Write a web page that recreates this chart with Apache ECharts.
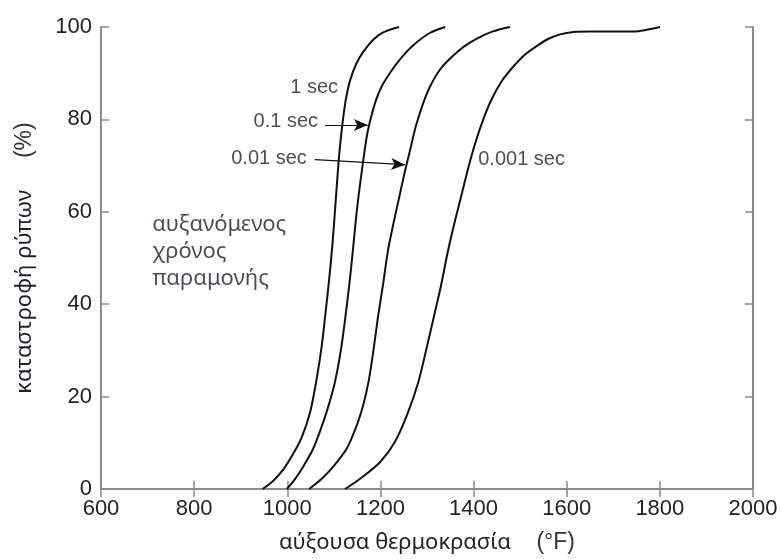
<!DOCTYPE html>
<html lang="el">
<head>
    <meta charset="utf-8" />
    <title>Καταστροφή ρύπων</title>
    <script src="https://cdn.jsdelivr.net/npm/echarts@6/dist/echarts.min.js"></script>
    <style>
        html, body, #main {
            width: 100%;
            height: 100%;
            margin: 0;
            padding: 0;
            background: #fff;
        }
    </style>
</head>
<body>
<div id="main"></div>
<script>
    // curves: [temperature °F, destruction %]
    var sec1 = [[947, 0], [970, 1.8], [992, 4.3], [1012, 7.5], [1031, 11.2], [1049, 16.6], [1063, 23.8], [1074, 31],
        [1082, 38], [1090, 45.5], [1097, 53], [1103, 61], [1108, 68], [1113, 74], [1119, 79.5],
        [1126, 84.5], [1135, 88.5], [1148, 92], [1163, 94.6], [1185, 97.3], [1205, 98.8], [1240, 100]];
    var sec01 = [[999, 0], [1017, 2.2], [1035, 5], [1055, 8.6], [1072, 13], [1087, 17.5], [1102, 23], [1115, 30],
        [1125, 37.4], [1134, 45], [1141, 51.8], [1148, 59], [1155, 65], [1163, 71], [1171, 76.5], [1180, 80.5],
        [1190, 84], [1202, 87], [1220, 90], [1242, 93], [1270, 96], [1306, 98.7], [1339, 100]];
    var sec001 = [[1047, 0], [1074, 2.2], [1100, 5], [1128, 8.8], [1150, 14], [1164, 18.5], [1175, 23.5],
        [1185, 30], [1195, 37.4], [1206, 44.5], [1216, 51.5], [1228, 57.5], [1240, 63], [1252, 68.5],
        [1264, 73.5], [1276, 78.5], [1290, 83], [1306, 87], [1328, 90.8], [1353, 93.5],
        [1380, 95.8], [1407, 97.5], [1440, 99], [1478, 100]];
    var sec0001 = [[1124, 0], [1160, 2.5], [1199, 5.8], [1230, 10], [1257, 16], [1281, 23], [1298, 30],
        [1315, 37.4], [1330, 44], [1345, 51.5], [1360, 58], [1375, 64], [1390, 70], [1404, 75], [1420, 79.8],
        [1438, 84.2], [1460, 88.2], [1485, 91.4], [1510, 94], [1536, 95.9], [1560, 97.4], [1586, 98.4],
        [1615, 98.9], [1650, 99], [1700, 99], [1745, 99], [1772, 99.4], [1800, 100]];

    var curveNames = ['1 sec', '0.1 sec', '0.01 sec', '0.001 sec'];
    var curveLabelAt = [[1109, 87], [1066, 79.5], [1042, 71.5], [1410, 71.3]];
    var curveLabelSide = ['left', 'left', 'left', 'right'];
    var arrows = [
        [[1081, 78.8], [1173, 78.8]],
        [[1059, 71.3], [1253, 70.2]]
    ];
    var note = ['αυξανόμενος', 'χρόνος', 'παραμονής'];
    var noteAt = [710, 51.4];

    var xTicks = [600, 2000, 200];
    var yTicks = [0, 100, 20];

    var frame = '#8c8c8c';
    var greek = '#1e1e34';
    var greekFont = '"Noto Sans", "Open Sans", sans-serif';
    var latinFont = '"Liberation Sans", Arial, sans-serif';

    function axisBase(show) {
        return {
            axisLine: { show: true, lineStyle: { color: frame, width: 2 } },
            axisTick: { show: true, inside: true, length: 8, lineStyle: { color: frame, width: 1.5 } },
            splitLine: { show: false },
            axisLabel: {
                show: show, color: '#222', fontSize: 22, fontFamily: latinFont, margin: 9,
                formatter: function (v) { return String(v); }
            }
        };
    }

    var xBottom = Object.assign(axisBase(true), {
        type: 'value', position: 'bottom', min: xTicks[0], max: xTicks[1], interval: xTicks[2],
        name: '{g|αύξουσα θερμοκρασία}{p|    (°F)}',
        nameLocation: 'middle', nameGap: 42,
        nameTextStyle: {
            rich: {
                g: { fontSize: 22, fontFamily: greekFont, color: greek },
                p: { fontSize: 23, fontFamily: latinFont, color: '#333' }
            }
        }
    });
    var xTop = Object.assign(axisBase(false), {
        type: 'value', position: 'top', min: xTicks[0], max: xTicks[1], interval: xTicks[2]
    });
    var yLeft = Object.assign(axisBase(true), {
        type: 'value', position: 'left', min: yTicks[0], max: yTicks[1], interval: yTicks[2],
        name: '{g|καταστροφή ρύπων}{p|     (%)}',
        nameLocation: 'middle', nameGap: 65, nameRotate: 90,
        nameTextStyle: {
            rich: {
                g: { fontSize: 22, fontFamily: greekFont, color: greek },
                p: { fontSize: 23, fontFamily: latinFont, color: '#333' }
            }
        }
    });
    var yRight = Object.assign(axisBase(false), {
        type: 'value', position: 'right', min: yTicks[0], max: yTicks[1], interval: yTicks[2]
    });

    var curves = [sec1, sec01, sec001, sec0001];
    var series = curves.map(function (pts, i) {
        return {
            name: curveNames[i],
            type: 'line',
            data: pts,
            smooth: 0.3,
            showSymbol: false,
            symbol: 'none',
            lineStyle: { color: '#111', width: 2 },
            z: 3
        };
    });

    // curve names
    series.push({
        type: 'scatter',
        symbolSize: 0,
        silent: true,
        data: curveNames.map(function (n, i) {
            return {
                value: curveLabelAt[i],
                label: {
                    show: true, formatter: n, position: curveLabelSide[i], distance: 0,
                    color: '#222', fontSize: 20, fontFamily: latinFont
                }
            };
        }),
        // arrows from the labels to the curves
        markLine: {
            silent: true,
            symbol: ['none', 'arrow'],
            symbolSize: [9, 14],
            label: { show: false },
            lineStyle: { color: '#111', width: 1.2, type: 'solid' },
            data: arrows.map(function (a) {
                return [{ coord: a[0] }, { coord: a[1] }];
            })
        }
    });

    // residence-time note
    series.push({
        type: 'scatter',
        symbolSize: 0,
        silent: true,
        data: [{
            value: noteAt,
            label: {
                show: true, formatter: note.join('\n'), position: 'right', distance: 0,
                align: 'left', verticalAlign: 'middle',
                color: greek, fontSize: 22, lineHeight: 27, fontFamily: greekFont
            }
        }]
    });

    var myChart = echarts.init(document.getElementById('main'));
    myChart.setOption({
        animation: false,
        grid: { left: 101, right: 28, top: 27, bottom: 69 },
        xAxis: [xBottom, xTop],
        yAxis: [yLeft, yRight],
        series: series
    });
</script>
</body>
</html>
